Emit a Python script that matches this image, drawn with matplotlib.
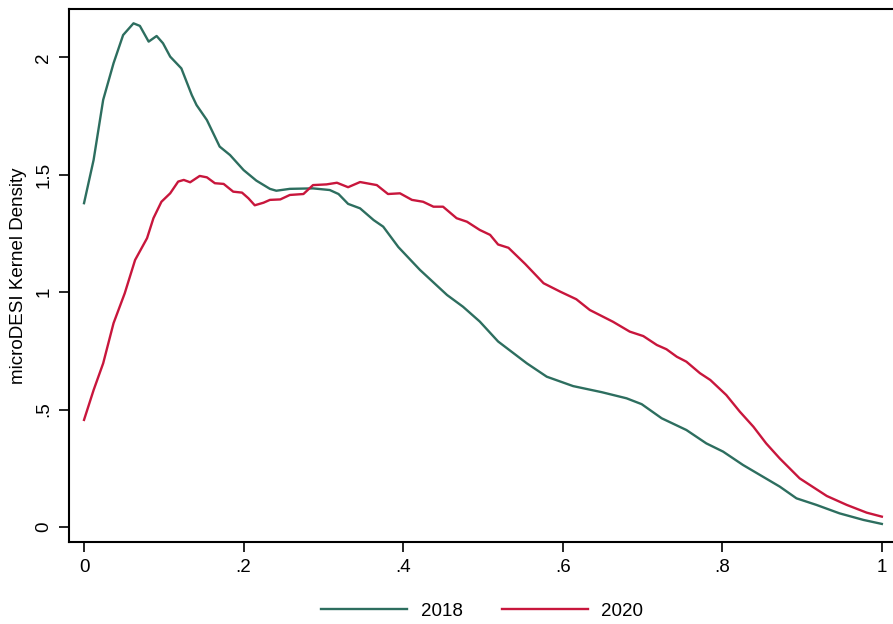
import matplotlib.pyplot as plt

plt.rcParams['font.family'] = ['Liberation Sans', 'DejaVu Sans']

# kernel density
x_2018 = [0.0, 0.012, 0.024, 0.037, 0.049, 0.062, 0.070, 0.081, 0.091, 0.099, 0.108, 0.122,
          0.135, 0.141, 0.154, 0.170, 0.183, 0.200, 0.216, 0.233, 0.241, 0.258, 0.287,
          0.308, 0.319, 0.331, 0.346, 0.363, 0.375, 0.394, 0.421, 0.455, 0.475, 0.496,
          0.519, 0.555, 0.580, 0.613, 0.649, 0.680, 0.699, 0.724, 0.755, 0.780, 0.801,
          0.826, 0.851, 0.872, 0.893, 0.918, 0.947, 0.977, 1.0]
y_2018 = [1.379, 1.563, 1.819, 1.975, 2.095, 2.145, 2.134, 2.067, 2.091, 2.060, 2.003, 1.953,
          1.840, 1.797, 1.733, 1.620, 1.584, 1.520, 1.475, 1.440, 1.432, 1.440, 1.442,
          1.435, 1.418, 1.376, 1.357, 1.307, 1.279, 1.192, 1.095, 0.988, 0.938, 0.875,
          0.790, 0.697, 0.640, 0.600, 0.574, 0.548, 0.523, 0.463, 0.413, 0.356, 0.321,
          0.264, 0.214, 0.172, 0.122, 0.094, 0.058, 0.030, 0.013]

x_2020 = [0.0, 0.012, 0.024, 0.037, 0.051, 0.064, 0.079, 0.087, 0.097, 0.108, 0.118, 0.125,
          0.133, 0.145, 0.154, 0.164, 0.175, 0.187, 0.198, 0.206, 0.214, 0.225, 0.233,
          0.246, 0.258, 0.275, 0.287, 0.304, 0.317, 0.331, 0.346, 0.367, 0.381, 0.396,
          0.411, 0.425, 0.438, 0.450, 0.467, 0.480, 0.496, 0.509, 0.519, 0.532, 0.553,
          0.576, 0.597, 0.617, 0.634, 0.663, 0.684, 0.701, 0.718, 0.730, 0.743, 0.755,
          0.772, 0.785, 0.805, 0.822, 0.839, 0.855, 0.872, 0.897, 0.931, 0.956, 0.981, 1.0]
y_2020 = [0.456, 0.583, 0.697, 0.868, 0.995, 1.137, 1.230, 1.315, 1.385, 1.421, 1.471, 1.478,
          1.468, 1.495, 1.489, 1.464, 1.461, 1.428, 1.424, 1.400, 1.370, 1.381, 1.393,
          1.395, 1.414, 1.418, 1.456, 1.459, 1.466, 1.447, 1.469, 1.456, 1.418, 1.421,
          1.393, 1.385, 1.364, 1.364, 1.315, 1.300, 1.265, 1.244, 1.203, 1.189, 1.120,
          1.038, 1.002, 0.970, 0.924, 0.874, 0.832, 0.813, 0.775, 0.757, 0.725, 0.704,
          0.655, 0.626, 0.562, 0.491, 0.427, 0.356, 0.292, 0.207, 0.132, 0.094, 0.061, 0.044]

x_ticks = [0, 0.2, 0.4, 0.6, 0.8, 1.0]
x_labels = ['0', '.2', '.4', '.6', '.8', '1']
y_ticks = [0, 0.5, 1, 1.5, 2]
y_labels = ['0', '.5', '1', '1.5', '2']

fig = plt.figure(figsize=(8.93, 6.24), dpi=100)
ax = fig.add_axes([0.0773, 0.1314, 0.927, 0.8542])

ax.plot(x_2018, y_2018, color='#2d6e5f', lw=1.7, label='2018')
ax.plot(x_2020, y_2020, color='#c8163c', lw=1.7, label='2020')

ax.set_xlim(-0.0188, 1.0188)
ax.set_ylim(-0.064, 2.206)
ax.set_xticks(x_ticks)
ax.set_xticklabels(x_labels)
ax.set_yticks(y_ticks)
ax.set_yticklabels(y_labels, rotation=90, va='center')
ax.tick_params(labelsize=13.5, length=7, width=1.2, pad=5)
for s in ax.spines.values():
    s.set_linewidth(1.5)
ax.set_ylabel('microDESI Kernel Density', fontsize=13.5, labelpad=6)

fig.legend(loc='lower center', bbox_to_anchor=(0.54, -0.02), ncol=2, frameon=False,
           fontsize=13.5, handlelength=4.6, handletextpad=0.7, columnspacing=2.1)

fig.savefig('out.png', dpi=100)
